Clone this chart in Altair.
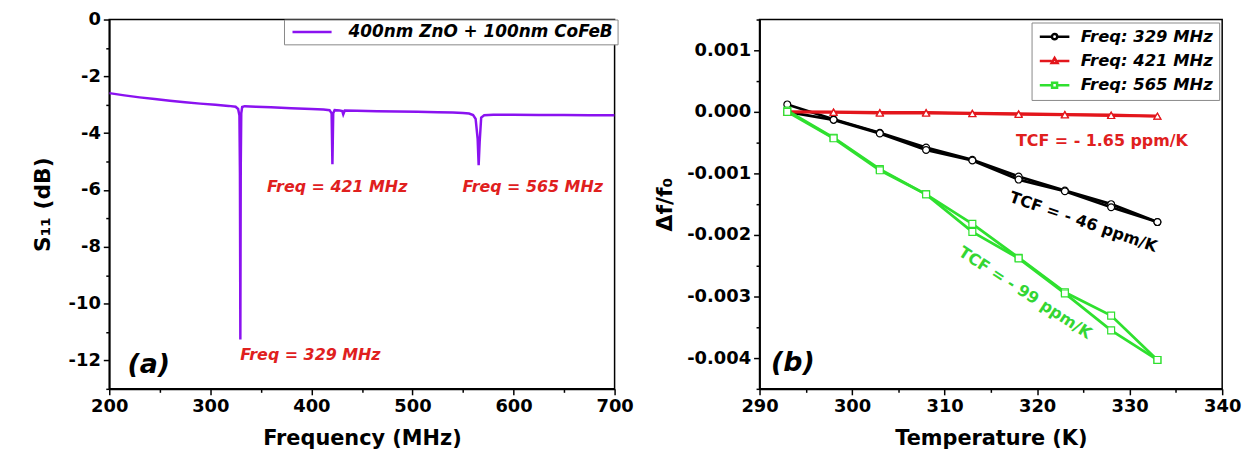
import altair as alt
import pandas as pd

# ---------------- panel (a) data ----------------
freq_mhz = [200, 215, 230, 245, 260, 275, 290, 305, 318, 325,
            327.5, 328.8, 329.3, 329.7, 330.1, 330.6, 331.5, 334, 345, 360,
            380, 400, 412, 418, 420.0, 420.8, 421.6, 423, 428, 430.5,
            431.5, 433, 445, 465, 485, 505, 525, 540, 550, 556,
            560, 562.5, 564.5, 565.5, 566.5, 568, 571, 580, 600, 625,
            650, 675, 700]
s11_db = [-2.59, -2.67, -2.74, -2.80, -2.86, -2.91, -2.96, -3.00, -3.04, -3.07,
          -3.15, -3.38, -5.4, -11.26, -5.2, -3.3, -3.08, -3.05, -3.07, -3.09,
          -3.12, -3.15, -3.17, -3.19, -3.3, -5.09, -3.3, -3.19, -3.2, -3.22,
          -3.34, -3.2, -3.21, -3.23, -3.24, -3.25, -3.26, -3.27, -3.29, -3.31,
          -3.36, -3.5, -4.2, -5.13, -4.3, -3.45, -3.37, -3.35, -3.35, -3.36,
          -3.36, -3.37, -3.37]
series_a = ["400nm ZnO + 100nm CoFeB"]

notes_a_text = ["Freq = 421 MHz", "Freq = 565 MHz", "Freq = 329 MHz"]
notes_a_x = [425.5, 619, 399]
notes_a_y = [-5.88, -5.88, -11.8]

x_ticks_a = [200, 250, 300, 350, 400, 450, 500, 550, 600, 650, 700]
y_major_a = [-12, -10, -8, -6, -4, -2, 0]
y_minor_a = [-13, -11, -9, -7, -5, -3, -1]

# ---------------- panel (b) data ----------------
temp_k = [293, 298, 303, 308, 313, 318, 323, 328, 333]
series_b = ["Freq: 329 MHz", "Freq: 421 MHz", "Freq: 565 MHz"]
f329_heat = [0.00012, -0.00012, -0.00034, -0.00058, -0.00078, -0.00105, -0.00128, -0.00150, -0.00179]
f329_cool = [0.00000, -0.00013, -0.00035, -0.00062, -0.00079, -0.00110, -0.00129, -0.00155, -0.00179]
f421_heat = [0.0, 0.0, -0.00001, -0.00001, -0.00002, -0.00003, -0.00004, -0.00005, -0.00007]
f421_cool = [0.0, -0.00001, -0.00002, -0.00002, -0.00003, -0.00004, -0.00005, -0.00006, -0.00007]
f565_heat = [0.00002, -0.00042, -0.00093, -0.00134, -0.00182, -0.00237, -0.00293, -0.00331, -0.00403]
f565_cool = [0.0, -0.00043, -0.00095, -0.00134, -0.00195, -0.00238, -0.00295, -0.00355, -0.00403]

tcf_text = ["TCF = - 1.65 ppm/K", "TCF = - 46 ppm/K", "TCF = - 99 ppm/K"]
tcf_x = [327.0, 325.0, 318.7]
tcf_y = [-0.00047, -0.00179, -0.00294]

x_ticks_b = [290, 295, 300, 305, 310, 315, 320, 325, 330, 335, 340]
y_major_b = [-0.004, -0.003, -0.002, -0.001, 0.0, 0.001]
y_minor_b = [-0.0045, -0.0035, -0.0025, -0.0015, -0.0005, 0.0005, 0.0015]

# ---------------- styling ----------------
FONT = "DejaVu Sans"
PURPLE = "#8a12f0"
BLACK = "#000000"
RED = "#e3161c"
GREEN = "#2fe02f"
TXT_RED = "#e0201e"
TXT_GREEN = "#33d633"
COLORS_B = [BLACK, RED, GREEN]

W_A, W_B, H = 509, 466, 372


def tick_size(expr):
    return {"condition": {"test": expr, "value": 6}, "value": 3.5}


minor_axis = dict(orient="left", labels=False, domain=False, title=None, tickSize=3.5)

# ---------------- panel (a) ----------------
df_a = pd.DataFrame({"freq": freq_mhz, "s11": s11_db, "series": series_a[0]})

major_xa = "datum.value % 100 === 0"
scale_xa = alt.Scale(domain=[200, 700], nice=False, zero=False)
scale_ya = alt.Scale(domain=[-13, 0], nice=False, zero=False)

xa = alt.X("freq:Q", title="Frequency (MHz)", scale=scale_xa,
           axis=alt.Axis(values=x_ticks_a, tickSize=tick_size(major_xa), labelFlush=False,
                         labelExpr=f"{major_xa} ? datum.label : ''"))
ya = alt.Y("s11:Q", title="S\u2081\u2081 (dB)", scale=scale_ya,
           axis=alt.Axis(orient="left", values=y_major_a, tickSize=6, format="d",
                         labelExpr="replace(datum.label, '\u2212', '-')",
                         titlePadding=14))

line_a = alt.Chart(df_a).mark_line(strokeWidth=2.5, clip=True).encode(
    x=xa, y=ya,
    color=alt.Color("series:N", scale=alt.Scale(domain=series_a, range=[PURPLE]),
                    legend=alt.Legend(title=None, orient="none", legendX=176, legendY=0,
                                      symbolType="M-1,0H9", symbolSize=62,
                                      symbolStrokeWidth=2.5, labelOffset=44,
                                      labelFont=FONT, labelFontSize=17,
                                      labelFontStyle="italic", labelFontWeight="bold",
                                      labelColor="black", labelLimit=400,
                                      strokeColor="#888888", padding=4,
                                      fillColor="white")),
)

df_na = pd.DataFrame({"x": notes_a_x, "y": notes_a_y, "t": notes_a_text})
notes_a = alt.Chart(df_na).mark_text(font=FONT, fontSize=16, fontWeight="bold",
                                     fontStyle="italic", color=TXT_RED).encode(
    x=alt.X("x:Q", scale=scale_xa),
    y=alt.Y("y:Q", scale=scale_ya, axis=alt.Axis(values=y_minor_a, **minor_axis)),
    text="t:N")

df_la = pd.DataFrame({"x": [239], "y": [-12.18], "t": ["(a)"]})
label_a = alt.Chart(df_la).mark_text(font=FONT, fontSize=27, fontWeight="bold",
                                     fontStyle="italic", color="black").encode(
    x=alt.X("x:Q", scale=scale_xa),
    y=alt.Y("y:Q", scale=scale_ya, axis=None),
    text="t:N")

chart_a = alt.layer(line_a, notes_a, label_a).resolve_axis(y="independent").properties(width=W_A, height=H)

# ---------------- panel (b) ----------------
rows = []
for name, heat, cool in zip(series_b, [f329_heat, f421_heat, f565_heat],
                            [f329_cool, f421_cool, f565_cool]):
    for sweep, vals in (("heat", heat), ("cool", cool)):
        for t, v in zip(temp_k, vals):
            rows.append({"series": name, "sweep": sweep, "T": t, "df": v})
df_b = pd.DataFrame(rows)

major_xb = "datum.value % 10 === 0"
scale_xb = alt.Scale(domain=[290, 340], nice=False, zero=False)
scale_yb = alt.Scale(domain=[-0.0045, 0.0015], nice=False, zero=False)

xb = alt.X("T:Q", title="Temperature (K)", scale=scale_xb,
           axis=alt.Axis(values=x_ticks_b, tickSize=tick_size(major_xb), labelFlush=False,
                         labelExpr=f"{major_xb} ? datum.label : ''"))
yb = alt.Y("df:Q", title="\u0394f/f\u2080", scale=scale_yb,
           axis=alt.Axis(orient="left", values=y_major_b, tickSize=6, format=".3f",
                         labelExpr="replace(datum.label, '\u2212', '-')",
                         titlePadding=10))
yb_plain = alt.Y("df:Q", scale=scale_yb, axis=None)

lines_b = alt.Chart(df_b).mark_line(strokeWidth=2.8).encode(
    x=xb, y=yb,
    color=alt.Color("series:N", scale=alt.Scale(domain=series_b, range=COLORS_B), legend=None),
    detail="sweep:N",
)

points_b = alt.Chart(df_b).mark_point(filled=True, fill="white", size=48, strokeWidth=1.2, opacity=1).encode(
    x=xb, y=yb_plain,
    stroke=alt.Stroke("series:N", scale=alt.Scale(domain=series_b, range=COLORS_B), legend=None),
    shape=alt.Shape("series:N", scale=alt.Scale(domain=series_b, range=["circle", "triangle-up", "square"]), legend=None),
)

LEG_PATHS = [
    "M-1,0H1.05M1.95,0H4M1.05,0A0.45,0.45,0,1,1,1.95,0A0.45,0.45,0,1,1,1.05,0Z",
    "M-1,0H1.0M2.0,0H4M1.0,0.35L1.5,-0.5L2.0,0.35Z",
    "M-1,0H1.08M1.92,0H4M1.08,-0.42H1.92V0.42H1.08Z",
]
leg_b = alt.Legend(title=None, orient="none", legendX=274, legendY=3,
                   symbolSize=142, symbolStrokeWidth=2.5, symbolFillColor="white",
                   symbolOpacity=1, labelOffset=27,
                   labelFont=FONT, labelFontSize=16.5, labelFontStyle="italic",
                   labelFontWeight="bold", labelColor="black",
                   strokeColor="#888888", padding=6, rowPadding=7.5, fillColor="white")

legend_layer = alt.Chart(df_b).mark_point(filled=True, fill="white", opacity=0).encode(
    x=xb, y=yb_plain,
    stroke=alt.Stroke("series:N", scale=alt.Scale(domain=series_b, range=COLORS_B), legend=leg_b),
    shape=alt.Shape("series:N", scale=alt.Scale(domain=series_b, range=LEG_PATHS), legend=leg_b),
)

tcf_layers = []
for txt, x, y, ang, col in zip(tcf_text, tcf_x, tcf_y, [0, 19, 33], [TXT_RED, BLACK, TXT_GREEN]):
    d = pd.DataFrame({"x": [x], "y": [y], "t": [txt]})
    tcf_layers.append(alt.Chart(d).mark_text(font=FONT, fontSize=16, fontWeight="bold",
                                             color=col, angle=ang).encode(
        x=alt.X("x:Q", scale=scale_xb),
        y=alt.Y("y:Q", scale=scale_yb, axis=None),
        text="t:N"))

df_lb = pd.DataFrame({"x": [293.6], "y": [-0.00408], "t": ["(b)"]})
label_b = alt.Chart(df_lb).mark_text(font=FONT, fontSize=27, fontWeight="bold",
                                     fontStyle="italic", color="black").encode(
    x=alt.X("x:Q", scale=scale_xb),
    y=alt.Y("y:Q", scale=scale_yb, axis=alt.Axis(values=y_minor_b, **minor_axis)),
    text="t:N")

chart_b = alt.layer(lines_b, points_b, legend_layer, *tcf_layers, label_b).resolve_scale(
    shape="independent", stroke="independent").resolve_axis(y="independent").properties(width=W_B, height=H)

chart = alt.hconcat(chart_a, chart_b, spacing=18).resolve_scale(
    color="independent", stroke="independent", shape="independent"
).properties(
    padding={"left": 22, "top": 0, "right": 5, "bottom": 0}
).configure_view(stroke="black", strokeWidth=1.5).configure_axis(
    labelFont=FONT, labelFontSize=18, labelFontWeight="bold", labelColor="black",
    titleFont=FONT, titleFontSize=22, titleFontWeight="bold", titleColor="black",
    domainColor="black", domainWidth=1.8, tickColor="black", tickWidth=1.5,
    grid=False, labelPadding=3, titlePadding=10,
).configure_axisX(titlePadding=12, titleFontSize=21)

chart.save("out.html", embed_options={"renderer": "svg", "actions": False})
